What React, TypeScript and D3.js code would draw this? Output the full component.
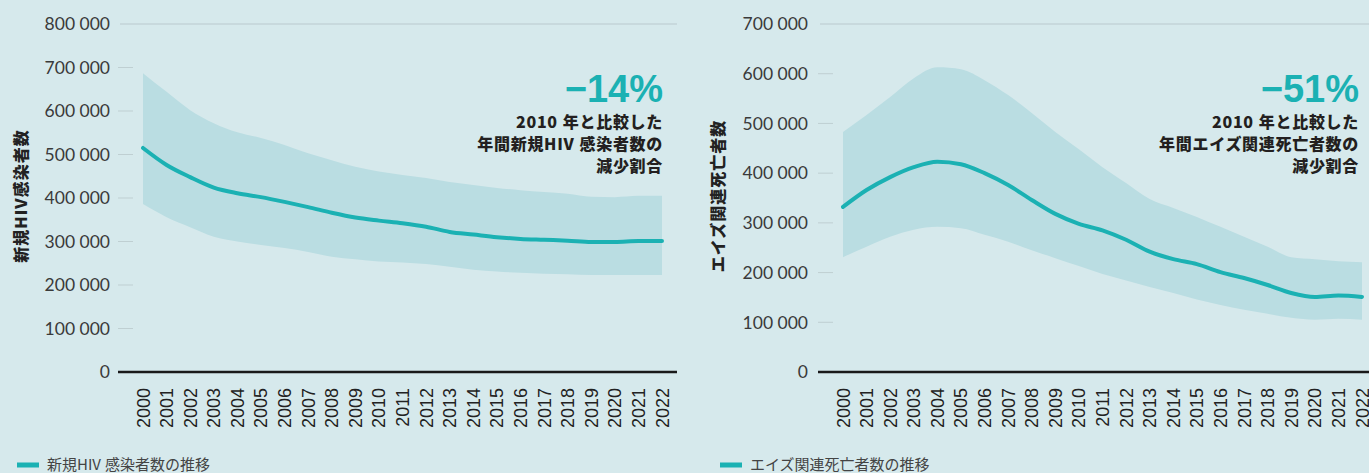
import React from "react";
import * as d3 from "d3";

// years on the x axis
const years = [
  2000, 2001, 2002, 2003, 2004, 2005, 2006, 2007, 2008, 2009, 2010, 2011,
  2012, 2013, 2014, 2015, 2016, 2017, 2018, 2019, 2020, 2021, 2022,
];

// new HIV infections (estimate + bounds)
const hivEstimate = [
  515000, 476000, 448000, 424000, 411000, 402000, 391000, 379000, 366000,
  355000, 348000, 342000, 334000, 322000, 316000, 310000, 306000, 304000,
  302000, 299000, 299000, 301000, 301000,
];
const hivUpper = [
  687000, 644000, 602000, 572000, 551000, 538000, 522000, 503000, 487000,
  472000, 461000, 453000, 446000, 437000, 430000, 423000, 418000, 414000,
  410000, 403000, 402000, 405000, 405000,
];
const hivLower = [
  386000, 356000, 333000, 311000, 300000, 292000, 285000, 276000, 265000,
  259000, 254000, 252000, 248000, 242000, 235000, 231000, 228000, 226000,
  225000, 223000, 223000, 223000, 223000,
];

// AIDS-related deaths (estimate + bounds)
const deathEstimate = [
  332000, 366000, 392000, 412000, 423000, 418000, 400000, 376000, 346000,
  318000, 298000, 285000, 266000, 242000, 227000, 217000, 201000, 189000,
  175000, 159000, 151000, 154000, 151000,
];
const deathUpper = [
  483000, 517000, 553000, 591000, 613000, 609000, 587000, 557000, 521000,
  483000, 448000, 412000, 380000, 348000, 330000, 312000, 292000, 272000,
  252000, 231000, 227000, 223000, 221000,
];
const deathLower = [
  231000, 252000, 272000, 286000, 292000, 289000, 276000, 262000, 245000,
  229000, 213000, 197000, 184000, 171000, 159000, 146000, 135000, 125000,
  117000, 109000, 105000, 107000, 105000,
];

const hivTicks = [0, 100000, 200000, 300000, 400000, 500000, 600000, 700000, 800000];
const deathTicks = [0, 100000, 200000, 300000, 400000, 500000, 600000, 700000];

const W = 1369;
const H = 473;
const BG = "#d6e9ec";
const BAND = "#badde2";
const TEAL = "#1bb1b3";
const CJK = "'Noto Sans CJK JP', sans-serif";

const fmt = (v: number) => d3.format(",")(v).replace(/,/g, " ");

type PanelProps = {
  est: number[];
  up: number[];
  lo: number[];
  ticks: number[];
  axisX0: number;
  axisX1: number;
  plotX0: number;
  plotX1: number;
  labelX: number;
  titleX: number;
  title: React.ReactNode;
  annotX: number;
  pct: string;
  line2: React.ReactNode;
  legendX: number;
  legend: React.ReactNode;
};

const Panel = (p: PanelProps) => {
  const x = d3.scaleLinear().domain([2000, 2022]).range([p.plotX0, p.plotX1]);
  const yMax = p.ticks[p.ticks.length - 1];
  const y = d3.scaleLinear().domain([0, yMax]).range([372, 24]);

  const rows = years.map((yr, i) => ({ yr, est: p.est[i], up: p.up[i], lo: p.lo[i] }));

  const area = d3
    .area<any>()
    .x((d) => x(d.yr))
    .y0((d) => y(d.lo))
    .y1((d) => y(d.up))
    .curve(d3.curveMonotoneX);

  const line = d3
    .line<any>()
    .x((d) => x(d.yr))
    .y((d) => y(d.est))
    .curve(d3.curveMonotoneX);

  return (
    <g>
      {/* y ticks */}
      {p.ticks.map((t) => (
        <g key={t}>
          {t === yMax ? (
            <line x1={p.axisX0 + 2} x2={p.axisX1} y1={y(t)} y2={y(t)} stroke="#b9c9cd" strokeWidth={1.2} />
          ) : t !== 0 ? (
            <line x1={p.axisX0} x2={p.axisX0 + 15} y1={y(t)} y2={y(t)} stroke="#bfcfd2" strokeWidth={1} />
          ) : null}
          <text
            x={p.labelX}
            y={y(t)}
            dy="0.36em"
            textAnchor="end"
            fontFamily="Lato, sans-serif"
            fontSize={17.5}
            fill="#3a3a3a"
          >
            {fmt(t)}
          </text>
        </g>
      ))}

      <path d={area(rows) || ""} fill={BAND} />
      <path d={line(rows) || ""} fill="none" stroke={TEAL} strokeWidth={4} strokeLinecap="round" />

      {/* zero axis */}
      <line x1={p.axisX0} x2={p.axisX1} y1={y(0)} y2={y(0)} stroke="#1a1a1a" strokeWidth={2.6} />

      {/* year labels */}
      {years.map((yr) => (
        <text
          key={yr}
          transform={`translate(${x(yr) + 6.5},388) rotate(-90)`}
          textAnchor="end"
          fontFamily="'Liberation Sans', Arial, sans-serif"
          fontSize={18}
          fill="#222"
        >
          {yr}
        </text>
      ))}

      {/* y title */}
      <text
        transform={`translate(${p.titleX},196) rotate(-90)`}
        textAnchor="middle"
        dominantBaseline="central"
        fontFamily={CJK}
        fontWeight={900}
        fontSize={16}
        letterSpacing={1}
        fill="#222"
      >
        {p.title}
      </text>

      {/* annotation */}
      <text
        x={p.annotX}
        y={102}
        textAnchor="end"
        fontFamily="'Liberation Sans', Arial, sans-serif"
        fontWeight={700}
        fontSize={38}
        fill={TEAL}
      >
        {p.pct}
      </text>
      <g fontFamily={CJK} fontWeight={900} fontSize={16} fill="#231f20" textAnchor="end">
        <text x={p.annotX} y={127.5} letterSpacing={0.7}>
          <tspan>2010</tspan>
          <tspan dx={5}>年と比較した</tspan>
        </text>
        <text x={p.annotX} y={149.5} letterSpacing={0.7}>
          {p.line2}
        </text>
        <text x={p.annotX} y={171.5} letterSpacing={0.7}>
          減少割合
        </text>
      </g>

      {/* legend */}
      <rect x={p.legendX} y={462.5} width={22} height={5} fill={TEAL} />
      <text x={p.legendX + 30} y={470} fontFamily={CJK} fontSize={15} fill="#444">
        {p.legend}
      </text>
    </g>
  );
};

export default function App() {
  return (
    <div style={{ position: "absolute", left: 0, top: 0 }}>
      <svg width={W} height={H} style={{ display: "block" }}>
        <rect x={0} y={0} width={W} height={H} fill={BG} />
        <Panel
          est={hivEstimate}
          up={hivUpper}
          lo={hivLower}
          ticks={hivTicks}
          axisX0={118}
          axisX1={677}
          plotX0={143}
          plotX1={662}
          labelX={110}
          titleX={20}
          title={"新規HIV感染者数"}
          annotX={663}
          pct="−14%"
          line2={
            <>
              <tspan>年間新規HIV</tspan>
              <tspan dx={5}>感染者数の</tspan>
            </>
          }
          legendX={17}
          legend={
            <>
              <tspan>新規HIV</tspan>
              <tspan dx={4}>感染者数の推移</tspan>
            </>
          }
        />
        <Panel
          est={deathEstimate}
          up={deathUpper}
          lo={deathLower}
          ticks={deathTicks}
          axisX0={818}
          axisX1={1369}
          plotX0={843}
          plotX1={1362}
          labelX={808}
          titleX={717}
          title={"エイズ関連死亡者数"}
          annotX={1359}
          pct="−51%"
          line2={"年間エイズ関連死亡者数の"}
          legendX={720}
          legend={"エイズ関連死亡者数の推移"}
        />
      </svg>
    </div>
  );
}
